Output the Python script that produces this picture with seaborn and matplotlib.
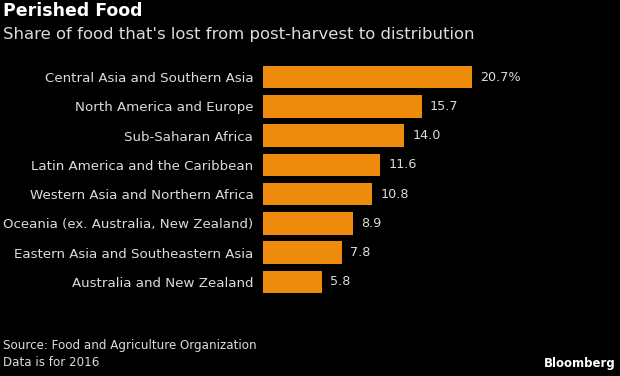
import matplotlib
matplotlib.use("Agg")
import matplotlib.pyplot as plt
import seaborn as sns
import pandas as pd

regions = [
    "Central Asia and Southern Asia",
    "North America and Europe",
    "Sub-Saharan Africa",
    "Latin America and the Caribbean",
    "Western Asia and Northern Africa",
    "Oceania (ex. Australia, New Zealand)",
    "Eastern Asia and Southeastern Asia",
    "Australia and New Zealand",
]
values = [20.7, 15.7, 14.0, 11.6, 10.8, 8.9, 7.8, 5.8]
value_labels = ["20.7%", "15.7", "14.0", "11.6", "10.8", "8.9", "7.8", "5.8"]

df = pd.DataFrame({"region": regions, "value": values})

sns.set_theme(style="dark")
plt.rcParams["font.family"] = ["DejaVu Sans"]

W, H = 620, 376
x0 = 263
scale = 10.1
fig = plt.figure(figsize=(W / 100, H / 100), dpi=100, facecolor="black")
ax = fig.add_axes([x0 / W, 1 - 296.6 / H, 1 - x0 / W, (296.6 - 62.4) / H])
ax.set_facecolor("black")

sns.barplot(data=df, x="value", y="region", ax=ax, color="#ee8a0c",
            saturation=1, width=0.77, orient="h", linewidth=0, edgecolor="none")

ax.set_xlim(0, (W - x0) / scale)
ax.set_ylim(7.5, -0.5)
ax.set_xlabel("")
ax.set_ylabel("")
ax.set_xticks([])
for s in ax.spines.values():
    s.set_visible(False)
ax.tick_params(axis="y", length=0, pad=7, labelsize=9.6, labelcolor="#dcdcdc")

for i, (v, lab) in enumerate(zip(values, value_labels)):
    ax.text(v + 0.8, i, lab, va="center", ha="left", color="#dcdcdc", fontsize=9.2)

fig.text(3 / W, 1 - 11 / H, "Perished Food", color="white", fontsize=12.5,
         fontweight="bold", va="center", ha="left")
fig.text(3 / W, 1 - 35 / H, "Share of food that's lost from post-harvest to distribution",
         color="#dcdcdc", fontsize=11.85, va="center", ha="left")
fig.text(3 / W, 1 - 346 / H, "Source: Food and Agriculture Organization",
         color="#dcdcdc", fontsize=8.6, va="center", ha="left")
fig.text(3 / W, 1 - 362 / H, "Data is for 2016",
         color="#dcdcdc", fontsize=8.6, va="center", ha="left")
fig.text(616 / W, 1 - 363 / H, "Bloomberg", color="white", fontsize=8.5,
         fontweight="bold", va="center", ha="right")

fig.savefig("out.png", dpi=100, facecolor="black")
